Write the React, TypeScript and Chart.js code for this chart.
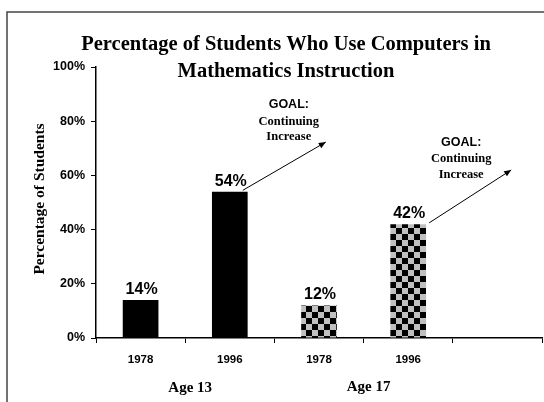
import React, { useEffect, useRef } from "react";
import { Chart, registerables } from "chart.js";

Chart.register(...registerables);

const categories = ["1978", "1996", "1978", "1996", ""];
const values = [14, 54, 12, 42, null];
const patterned = [false, false, true, true, false];
const groupLabels = ["Age 13", "Age 17"];
const titleLines = ["Percentage of Students Who Use Computers in", "Mathematics Instruction"];
const yTitle = "Percentage of Students";
const goalLines = ["GOAL:", "Continuing", "Increase"];

function makePattern(): CanvasPattern | string {
  const c = document.createElement("canvas");
  c.width = 12;
  c.height = 12;
  const g = c.getContext("2d");
  if (!g) return "#000";
  g.fillStyle = "#c0c0c0";
  g.fillRect(0, 0, 12, 12);
  g.fillStyle = "#000";
  g.fillRect(0, 0, 6, 6);
  g.fillRect(6, 6, 6, 6);
  const p = g.createPattern(c, "repeat");
  return p || "#000";
}

export default function App() {
  const ref = useRef<HTMLCanvasElement>(null);
  useEffect(() => {
    if (!ref.current) return;
    const pat = makePattern();
    const serif = "'Liberation Serif', 'Times New Roman', serif";
    const sans = "'Liberation Sans', Arial, sans-serif";

    const overlay = {
      id: "overlay",
      afterDraw(chart: any) {
        const ctx = chart.ctx as CanvasRenderingContext2D;
        const ys = chart.scales.y;
        const meta = chart.getDatasetMeta(0);
        ctx.save();
        // frame
        ctx.strokeStyle = "#444";
        ctx.lineWidth = 1.5;
        ctx.beginPath();
        ctx.moveTo(7, 402);
        ctx.lineTo(7, 12);
        ctx.lineTo(544, 12);
        ctx.stroke();
        // title
        ctx.fillStyle = "#000";
        ctx.textAlign = "center";
        ctx.textBaseline = "middle";
        ctx.font = `bold 20.5px ${serif}`;
        ctx.fillText(titleLines[0], 286, 45);
        ctx.fillText(titleLines[1], 286, 72);
        // y title
        ctx.save();
        ctx.translate(40, 199);
        ctx.rotate(-Math.PI / 2);
        ctx.font = `bold 15.5px ${serif}`;
        ctx.fillText(yTitle, 0, 0);
        ctx.restore();
        // group labels
        ctx.font = `bold 15px ${serif}`;
        const b0 = meta.data[0], b1 = meta.data[1], b2 = meta.data[2], b3 = meta.data[3];
        ctx.fillText(groupLabels[0], (b0.x + b1.x) / 2 + 5, 388);
        ctx.fillText(groupLabels[1], (b2.x + b3.x) / 2 + 5, 387);
        // data labels
        ctx.font = `bold 16px ${sans}`;
        ctx.textBaseline = "alphabetic";
        values.forEach((v, i) => {
          if (v == null) return;
          const el = meta.data[i];
          ctx.fillText(v + "%", el.x + 1, el.y - 6);
        });
        // goal annotations
        const drawGoal = (bar: any, v: number, dx1: number, dx2: number, v2: number, tx: number, ty: number[]) => {
          const x1 = bar.x + dx1, y1 = ys.getPixelForValue(v + 0.5);
          const x2 = bar.x + dx2, y2 = ys.getPixelForValue(v2);
          ctx.strokeStyle = "#000";
          ctx.lineWidth = 1;
          ctx.beginPath();
          ctx.moveTo(x1, y1);
          ctx.lineTo(x2, y2);
          ctx.stroke();
          const ang = Math.atan2(y2 - y1, x2 - x1);
          const L = 7, W = 3;
          ctx.fillStyle = "#000";
          ctx.beginPath();
          ctx.moveTo(x2, y2);
          ctx.lineTo(x2 - L * Math.cos(ang) + W * Math.sin(ang), y2 - L * Math.sin(ang) - W * Math.cos(ang));
          ctx.lineTo(x2 - L * Math.cos(ang) - W * Math.sin(ang), y2 - L * Math.sin(ang) + W * Math.cos(ang));
          ctx.closePath();
          ctx.fill();
          ctx.textAlign = "center";
          ctx.textBaseline = "middle";
          ctx.font = `bold 12.5px ${sans}`;
          ctx.fillText(goalLines[0], bar.x + tx, ys.getPixelForValue(ty[0]));
          ctx.font = `bold 12.5px ${serif}`;
          ctx.fillText(goalLines[1], bar.x + tx, ys.getPixelForValue(ty[1]));
          ctx.fillText(goalLines[2], bar.x + tx, ys.getPixelForValue(ty[2]));
        };
        drawGoal(b1, values[1] as number, 13, 96, 72.3, 59, [86, 79.7, 74.2]);
        drawGoal(b3, values[3] as number, 21, 103, 62, 53, [72, 66.1, 60.3]);
        ctx.restore();
      },
    };

    const chart = new Chart(ref.current, {
      type: "bar",
      data: {
        labels: categories,
        datasets: [
          {
            data: values as any,
            backgroundColor: patterned.map((p) => (p ? pat : "#000")) as any,
            borderWidth: 0,
            barPercentage: 0.8,
            categoryPercentage: 0.5,
          },
        ],
      },
      options: {
        animation: false,
        responsive: false,
        maintainAspectRatio: false,
        layout: { padding: { left: 0, top: 67, right: 2, bottom: 0 } },
        plugins: { legend: { display: false }, title: { display: false }, tooltip: { enabled: false } },
        scales: {
          x: {
            offset: true,
            border: { display: true, color: "#000", width: 1.5 },
            grid: { display: true, drawOnChartArea: false, drawTicks: true, tickLength: 5, color: "#000", offset: true },
            ticks: { color: "#000", font: { family: sans, weight: "bold", size: 11.5 }, padding: 10, maxRotation: 0 },
            afterFit: (s: any) => {
              s.height = 64;
            },
          },
          y: {
            min: 0,
            max: 100,
            border: { display: true, color: "#000", width: 1.5 },
            grid: { display: true, drawOnChartArea: false, drawTicks: true, tickLength: 5, color: "#000" },
            ticks: {
              stepSize: 20,
              color: "#000",
              padding: 6,
              font: { family: sans, weight: "bold", size: 12.5 },
              callback: (v: any) => v + "%",
            },
            afterFit: (s: any) => {
              s.width = 96;
            },
          },
        },
      },
      plugins: [overlay],
    });
    return () => chart.destroy();
  }, []);
  return (
    <div style={{ position: "absolute", left: 0, top: 0, width: 544, height: 402, background: "#fff" }}>
      <canvas ref={ref} width={544} height={402} style={{ width: 544, height: 402 }} />
    </div>
  );
}
